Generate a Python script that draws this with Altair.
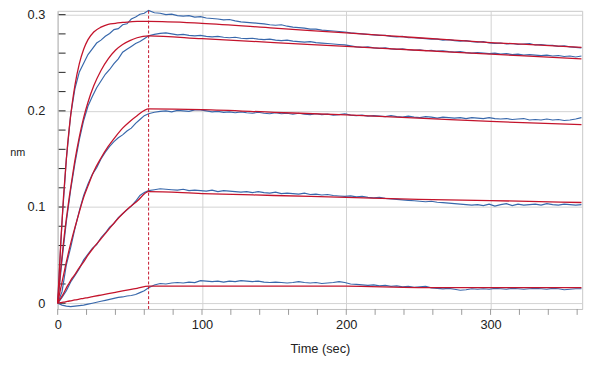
import altair as alt
import pandas as pd

# ---- sampled sensorgram times (sec) ----
t_assoc = [0, 3, 6, 9, 12, 15, 18, 21, 24, 27, 30, 33, 36, 39, 42, 45, 48, 51, 54, 57, 60, 63]
t_dissoc = [67, 71, 75, 79, 83, 87, 91, 95, 99, 103, 107, 111, 115, 119, 123, 127, 131, 135, 139, 143,
            147, 151, 155, 159, 163, 167, 171, 175, 179, 183, 187, 191, 195, 199, 203, 207, 211, 215, 219, 223,
            227, 231, 235, 239, 243, 247, 251, 255, 259, 263, 267, 271, 275, 279, 283, 287, 291, 295, 299, 303,
            307, 311, 315, 319, 323, 327, 331, 335, 339, 343, 347, 351, 355, 359, 363]

# ---- measured data (blue) ----
data1_a = [0, 0.085, 0.150, 0.196, 0.2235, 0.2405, 0.2495, 0.2585, 0.2645, 0.2705, 0.2735, 0.2775, 0.2805,
           0.2845, 0.2855, 0.2895, 0.2905, 0.2955, 0.2975, 0.3005, 0.3015, 0.3045]
data1_d = [0.302, 0.3015, 0.300, 0.3005, 0.299, 0.2985, 0.299, 0.2975, 0.298, 0.2965, 0.296, 0.2955, 0.2945,
           0.295, 0.2935, 0.2925, 0.292, 0.2915, 0.291, 0.2905, 0.2895, 0.289, 0.2895, 0.288, 0.287, 0.2865,
           0.286, 0.285, 0.285, 0.284, 0.2835, 0.283, 0.2825, 0.282, 0.281, 0.2805, 0.280, 0.2795, 0.279,
           0.2785, 0.2785, 0.2775, 0.277, 0.2775, 0.276, 0.276, 0.2755, 0.275, 0.2745, 0.2745, 0.2735, 0.274,
           0.273, 0.2725, 0.273, 0.272, 0.2715, 0.272, 0.2705, 0.270, 0.2705, 0.2695, 0.270, 0.269, 0.2695,
           0.270, 0.2685, 0.269, 0.268, 0.268, 0.267, 0.2675, 0.2665, 0.266, 0.2655]

data2_a = [0, 0.045, 0.085, 0.118, 0.146, 0.170, 0.190, 0.205, 0.215, 0.224, 0.231, 0.238, 0.243, 0.249,
           0.254, 0.261, 0.264, 0.267, 0.270, 0.272, 0.275, 0.278]
data2_d = [0.2795, 0.2805, 0.281, 0.280, 0.279, 0.2795, 0.2785, 0.278, 0.2785, 0.2775, 0.277, 0.2775, 0.2765,
           0.276, 0.2765, 0.2755, 0.275, 0.2755, 0.2745, 0.274, 0.2745, 0.2735, 0.273, 0.2735, 0.2725, 0.272,
           0.2715, 0.272, 0.271, 0.2705, 0.270, 0.2695, 0.269, 0.2685, 0.2675, 0.2665, 0.266, 0.2665, 0.2655,
           0.265, 0.2655, 0.2645, 0.264, 0.2645, 0.2635, 0.263, 0.2635, 0.2625, 0.263, 0.262, 0.2625, 0.2615,
           0.261, 0.2615, 0.2605, 0.260, 0.2605, 0.260, 0.2595, 0.260, 0.259, 0.2595, 0.2585, 0.259, 0.258,
           0.2585, 0.258, 0.2575, 0.258, 0.257, 0.2575, 0.2565, 0.257, 0.256, 0.257]

data3_a = [0, 0.012, 0.040, 0.058, 0.078, 0.096, 0.112, 0.124, 0.134, 0.141, 0.150, 0.157, 0.163, 0.168,
           0.172, 0.175, 0.179, 0.182, 0.187, 0.191, 0.195, 0.197]
data3_d = [0.1985, 0.1995, 0.200, 0.199, 0.2005, 0.200, 0.1995, 0.201, 0.201, 0.200, 0.199, 0.1995, 0.1985,
           0.199, 0.198, 0.199, 0.198, 0.1975, 0.1985, 0.1975, 0.197, 0.198, 0.197, 0.1975, 0.1965, 0.1975,
           0.1965, 0.196, 0.197, 0.196, 0.1965, 0.1955, 0.196, 0.197, 0.1955, 0.195, 0.1955, 0.1945, 0.195,
           0.1945, 0.194, 0.195, 0.194, 0.1935, 0.1945, 0.1935, 0.193, 0.194, 0.1935, 0.1925, 0.1935, 0.193,
           0.1925, 0.193, 0.192, 0.193, 0.1925, 0.192, 0.193, 0.192, 0.1915, 0.192, 0.191, 0.1915, 0.192,
           0.1905, 0.191, 0.1905, 0.1915, 0.1905, 0.191, 0.190, 0.1905, 0.1915, 0.193]

data4_a = [0, 0.006, 0.013, 0.022, 0.029, 0.036, 0.045, 0.051, 0.057, 0.061, 0.068, 0.073, 0.079, 0.083,
           0.089, 0.093, 0.097, 0.101, 0.106, 0.112, 0.115, 0.117]
data4_d = [0.118, 0.119, 0.1185, 0.118, 0.1175, 0.1185, 0.117, 0.1175, 0.117, 0.1165, 0.1175, 0.116, 0.117,
           0.1165, 0.116, 0.1155, 0.116, 0.115, 0.116, 0.115, 0.1145, 0.1155, 0.114, 0.1145, 0.114, 0.1135,
           0.1145, 0.113, 0.1135, 0.1125, 0.113, 0.112, 0.1115, 0.111, 0.1115, 0.1105, 0.111, 0.110, 0.1095,
           0.110, 0.109, 0.1085, 0.108, 0.1075, 0.107, 0.1065, 0.106, 0.1055, 0.106, 0.105, 0.1045, 0.104,
           0.1035, 0.103, 0.1025, 0.102, 0.1025, 0.1015, 0.103, 0.101, 0.1025, 0.1035, 0.1015, 0.103, 0.102,
           0.1025, 0.103, 0.102, 0.1035, 0.1025, 0.102, 0.103, 0.1025, 0.102, 0.1025]

data5_a = [0, -0.002, -0.003, -0.0035, -0.003, -0.0025, -0.002, -0.001, 0.0, 0.001, 0.002, 0.003, 0.004,
           0.005, 0.006, 0.0065, 0.0075, 0.008, 0.009, 0.011, 0.013, 0.016]
data5_d = [0.019, 0.0205, 0.020, 0.021, 0.0215, 0.021, 0.022, 0.0215, 0.0235, 0.023, 0.0225, 0.023, 0.022,
           0.023, 0.0225, 0.0235, 0.023, 0.0225, 0.023, 0.022, 0.0215, 0.022, 0.0215, 0.021, 0.0215, 0.0225,
           0.0215, 0.021, 0.0215, 0.0205, 0.021, 0.0215, 0.0225, 0.0215, 0.020, 0.0195, 0.019, 0.0185, 0.019,
           0.018, 0.0185, 0.0175, 0.018, 0.017, 0.0175, 0.0165, 0.017, 0.0175, 0.016, 0.0155, 0.015, 0.0155,
           0.0145, 0.0135, 0.014, 0.015, 0.0145, 0.015, 0.0145, 0.0155, 0.015, 0.0145, 0.0155, 0.015, 0.0145,
           0.015, 0.0155, 0.015, 0.0145, 0.0155, 0.015, 0.014, 0.0145, 0.015, 0.015]

# ---- fitted curves (red) ----
fit_t = [0, 2, 4, 6, 8, 10, 12, 15, 18, 21, 25, 30, 35, 40, 45, 50, 55, 63, 100, 150, 200, 250, 300, 363]
fit1 = [0, 0.060, 0.110, 0.150, 0.182, 0.207, 0.227, 0.249, 0.264, 0.274, 0.282, 0.287, 0.290, 0.291,
        0.292, 0.2925, 0.293, 0.293, 0.291, 0.286, 0.281, 0.276, 0.271, 0.266]
fit2 = [0, 0.034, 0.063, 0.088, 0.110, 0.130, 0.149, 0.173, 0.193, 0.209, 0.226, 0.242, 0.254, 0.263,
        0.269, 0.273, 0.276, 0.278, 0.275, 0.271, 0.267, 0.263, 0.259, 0.254]
fit3 = [0, 0.015, 0.029, 0.043, 0.056, 0.068, 0.079, 0.095, 0.110, 0.122, 0.137, 0.151, 0.163, 0.173,
        0.182, 0.189, 0.195, 0.202, 0.2013, 0.1985, 0.1957, 0.1925, 0.189, 0.1856]
fit4 = [0, 0.005, 0.010, 0.016, 0.021, 0.026, 0.030, 0.037, 0.043, 0.050, 0.058, 0.067, 0.076, 0.085,
        0.093, 0.100, 0.106, 0.116, 0.114, 0.112, 0.110, 0.108, 0.1067, 0.1047]
fit5 = [0, 0.0006, 0.0011, 0.0017, 0.0023, 0.0028, 0.0034, 0.0042, 0.0051, 0.0059, 0.0071, 0.0085,
        0.0099, 0.0113, 0.0127, 0.0141, 0.0155, 0.0178, 0.0178, 0.0178, 0.0177, 0.0163, 0.0162, 0.0161]

assoc_end = [63]
x_minor = [0, 20, 40, 60, 80, 100, 120, 140, 160, 180, 200, 220, 240, 260, 280, 300, 320, 340, 360]
y_minor = [0, 0.02, 0.04, 0.06, 0.08, 0.1, 0.12, 0.14, 0.16, 0.18, 0.2, 0.22, 0.24, 0.26, 0.28, 0.3]
x_major = [0, 100, 200, 300]
y_major = [0, 0.1, 0.2, 0.3]

# ---- tables ----
t_all = t_assoc + t_dissoc
rows = []
for name, a, d in [("s1", data1_a, data1_d), ("s2", data2_a, data2_d), ("s3", data3_a, data3_d),
                   ("s4", data4_a, data4_d), ("s5", data5_a, data5_d)]:
    for t, v in zip(t_all, a + d):
        rows.append({"t": t, "nm": v, "s": name})
meas = pd.DataFrame(rows)

rows = []
for name, f in [("f1", fit1), ("f2", fit2), ("f3", fit3), ("f4", fit4), ("f5", fit5)]:
    for t, v in zip(fit_t, f):
        rows.append({"t": t, "nm": v, "s": name})
fits = pd.DataFrame(rows)

W, H = 533, 303
xs = alt.Scale(domain=[0, 363.5], nice=False, zero=False)
ys = alt.Scale(domain=[-0.006, 0.304], nice=False, zero=False)

lab_font = "Liberation Sans"

x_axis = alt.Axis(values=x_major, title="Time (sec)", grid=True, gridColor="#d2d2d2",
                  ticks=False, labelPadding=10, labelFontSize=13, labelFont=lab_font,
                  labelColor="#222", titleFont=lab_font, titleFontSize=13, titleFontWeight="normal",
                  titleColor="#222", titlePadding=11, domainColor="#c4c4c4", labelFlush=False)
y_axis = alt.Axis(values=y_major, title="nm", grid=True, gridColor="#d2d2d2", ticks=False,
                  labelPadding=13, labelFontSize=13, labelFont=lab_font, labelColor="#222",
                  labelExpr="datum.value == 0 ? '0' : format(datum.value, '.1f')",
                  titleFont=lab_font, titleFontSize=11, titleFontWeight="normal", titleColor="#222",
                  titleAngle=0, titleAlign="center", titleBaseline="middle", titleX=-41, titleY=144,
                  domainColor="#c4c4c4")

X = alt.X("t:Q", scale=xs, axis=x_axis)
Y = alt.Y("nm:Q", scale=ys, axis=y_axis)

base_t = alt.Chart(pd.DataFrame({"t": x_minor}))
base_y = alt.Chart(pd.DataFrame({"nm": y_minor}))

xt = base_t.mark_rule(color="#9a9a9a", strokeWidth=1).encode(
    x=X, y=alt.value(H), y2=alt.value(H + 6))
yt = base_y.mark_rule(color="#222", strokeWidth=1).encode(
    y=Y, x=alt.value(1), x2=alt.value(8))
blue = alt.Chart(meas).mark_line(color="#3868ab", strokeWidth=1.2).encode(x=X, y=Y, detail="s:N")
red = alt.Chart(fits).mark_line(color="#c4142c", strokeWidth=1.3, interpolate="monotone").encode(
    x=X, y=Y, detail="s:N")
dash = alt.Chart(pd.DataFrame({"t": assoc_end})).mark_rule(
    color="#c4142c", strokeWidth=1, strokeDash=[3, 2]).encode(
    x=X, y=alt.value(0), y2=alt.value(H))

chart = alt.layer(xt, yt, blue, red, dash).properties(
    width=W, height=H,
    autosize=alt.AutoSizeParams(type="none"),
    padding={"left": 50.5, "top": 0, "right": 12, "bottom": 50},
).configure_view(stroke="#c8c8c8", strokeWidth=1)

chart.save("out.html", embed_options={"renderer": "svg", "actions": False})
